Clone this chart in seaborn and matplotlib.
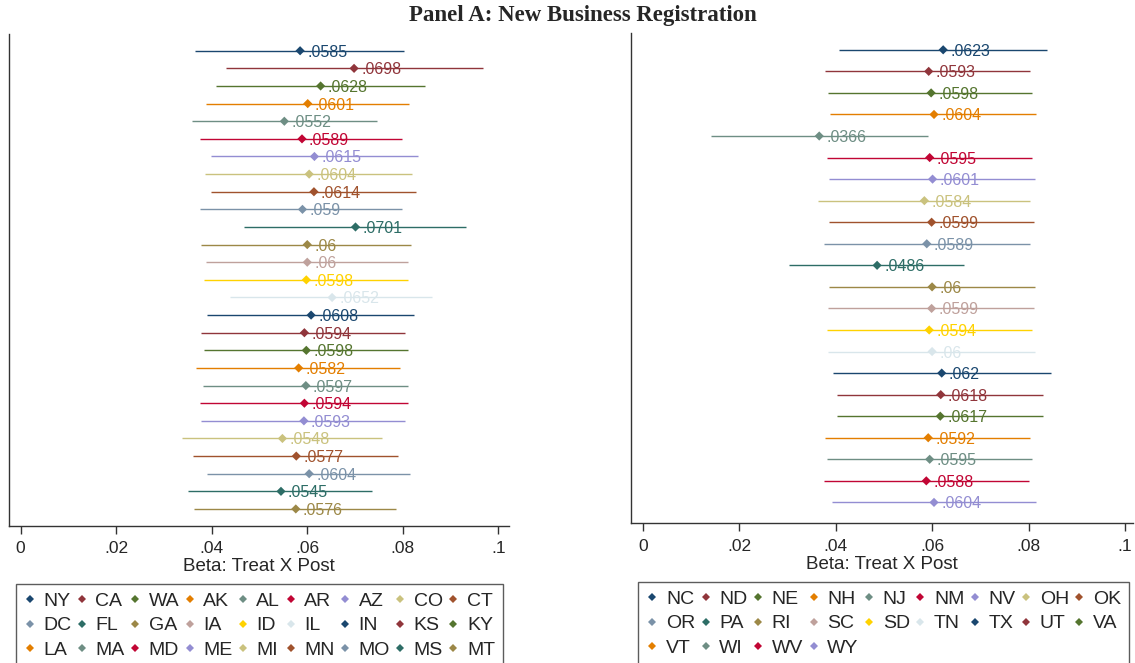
import matplotlib
matplotlib.use("Agg")
import matplotlib.pyplot as plt
from matplotlib.lines import Line2D
import numpy as np
import pandas as pd
import seaborn as sns

# Stata s2color palette (cycled over the states)
stata_colors = ["#1a476f", "#90353b", "#55752f", "#e37e00", "#6e8e84",
                "#c10534", "#938dd2", "#cac27e", "#a0522d", "#7b92a8",
                "#2d6d66", "#9c8847", "#bfa19c", "#ffd200", "#d9e6eb"]

# Left panel: point estimates and 95% confidence bounds
left_states = ["NY", "CA", "WA", "AK", "AL", "AR", "AZ", "CO", "CT",
               "DC", "FL", "GA", "IA", "ID", "IL", "IN", "KS", "KY",
               "LA", "MA", "MD", "ME", "MI", "MN", "MO", "MS", "MT"]
left_beta = [0.0585, 0.0698, 0.0628, 0.0601, 0.0552, 0.0589, 0.0615, 0.0604, 0.0614,
             0.059, 0.0701, 0.06, 0.06, 0.0598, 0.0652, 0.0608, 0.0594, 0.0598,
             0.0582, 0.0597, 0.0594, 0.0593, 0.0548, 0.0577, 0.0604, 0.0545, 0.0576]
left_lo = [0.0366, 0.0429, 0.0409, 0.0388, 0.0358, 0.0376, 0.0399, 0.0386, 0.0399,
           0.0376, 0.0467, 0.0378, 0.0388, 0.0383, 0.0439, 0.0391, 0.0378, 0.0383,
           0.0368, 0.0381, 0.0376, 0.0378, 0.0338, 0.0361, 0.0391, 0.0351, 0.0363]
left_hi = [0.0803, 0.0967, 0.0846, 0.0813, 0.0745, 0.0799, 0.0831, 0.0820, 0.0828,
           0.0799, 0.0932, 0.0818, 0.0810, 0.0810, 0.0861, 0.0823, 0.0805, 0.0810,
           0.0795, 0.0810, 0.0810, 0.0805, 0.0757, 0.0790, 0.0816, 0.0736, 0.0785]

# Right panel
right_states = ["NC", "ND", "NE", "NH", "NJ", "NM", "NV", "OH", "OK",
                "OR", "PA", "RI", "SC", "SD", "TN", "TX", "UT", "VA",
                "VT", "WI", "WV", "WY"]
right_beta = [0.0623, 0.0593, 0.0598, 0.0604, 0.0366, 0.0595, 0.0601, 0.0584, 0.0599,
              0.0589, 0.0486, 0.06, 0.0599, 0.0594, 0.06, 0.062, 0.0618, 0.0617,
              0.0592, 0.0595, 0.0588, 0.0604]
right_lo = [0.0407, 0.0379, 0.0384, 0.0389, 0.0142, 0.0382, 0.0387, 0.0364, 0.0387,
            0.0375, 0.0304, 0.0387, 0.0384, 0.0382, 0.0384, 0.0394, 0.0402, 0.0402,
            0.0379, 0.0382, 0.0375, 0.0392]
right_hi = [0.0839, 0.0803, 0.0808, 0.0816, 0.0591, 0.0807, 0.0813, 0.0803, 0.0811,
            0.0803, 0.0667, 0.0813, 0.0811, 0.0807, 0.0813, 0.0847, 0.0831, 0.0829,
            0.0803, 0.0808, 0.0800, 0.0816]

xticks = [0, 0.02, 0.04, 0.06, 0.08, 0.1]
xtick_labels = ["0", ".02", ".04", ".06", ".08", ".1"]

sns.set_style("white")
plt.rcParams["font.family"] = ["Liberation Sans", "DejaVu Sans"]

fig = plt.figure(figsize=(11.35, 6.63), dpi=100)

def stata_fmt(v):
    s = f"{v:.4g}"
    return s[1:] if s.startswith("0") else s

def panel(rect, states, beta, lo, hi, ylim, xlim):
    ax = fig.add_axes(rect)
    df = pd.DataFrame({"state": states, "beta": beta, "lo": lo, "hi": hi})
    df["pos"] = np.arange(len(df))
    palette = {s: stata_colors[i % len(stata_colors)] for i, s in enumerate(states)}
    df["color"] = df["state"].map(palette)

    ax.hlines(df["pos"], df["lo"], df["hi"], colors=df["color"], lw=1.0, zorder=1)
    sns.scatterplot(data=df, x="beta", y="pos", hue="state", palette=palette,
                    marker="D", s=22, linewidth=0, legend=False, ax=ax, zorder=2)
    for _, r in df.iterrows():
        ax.annotate(stata_fmt(r["beta"]), (r["beta"], r["pos"]),
                    xytext=(7, 0), textcoords="offset pixels",
                    ha="left", va="center_baseline", color=r["color"],
                    fontsize=11.5, zorder=3)

    ax.set_xlim(*xlim)
    ax.set_ylim(*ylim)
    ax.set_yticks([])
    ax.set_ylabel("")
    ax.set_xticks(xticks)
    ax.set_xticklabels(xtick_labels)
    ax.tick_params(axis="x", direction="out", length=6, width=1, color="#333333",
                   labelsize=12.5, pad=5, bottom=True)
    ax.set_xlabel("Beta: Treat X Post", fontsize=13.5, labelpad=1.5)
    for side in ["top", "right"]:
        ax.spines[side].set_visible(False)
    for side in ["left", "bottom"]:
        ax.spines[side].set_color("#333333")
        ax.spines[side].set_linewidth(1.0)
    ax.patch.set_alpha(0)
    return palette

def legend(palette, states, anchor):
    n = len(states)
    ncol = 9
    order = []
    for c in range(ncol):
        r = 0
        while r * ncol + c < n:
            order.append(r * ncol + c)
            r += 1
    handles = [Line2D([], [], marker="D", ls="", color=palette[states[i]],
                      markersize=4.2, markeredgewidth=0) for i in order]
    labels = [states[i] for i in order]
    leg = fig.legend(handles, labels, ncol=ncol, loc="upper left",
                     bbox_to_anchor=anchor, bbox_transform=fig.transFigure,
                     mode="expand", fontsize=14, frameon=True, fancybox=False,
                     handlelength=0.6, handletextpad=0.4, columnspacing=0.4,
                     labelspacing=0.36, borderpad=0.42, borderaxespad=0)
    leg.get_frame().set_edgecolor("#333333")
    leg.get_frame().set_linewidth(1.0)

W, H = 1135, 663
# left panel axes
lp = panel([8.5 / W, 1 - 525.7 / H, (509 - 8.5) / W, (525.7 - 34) / H],
           left_states, left_beta, left_lo, left_hi,
           (26.95, -0.95), (-0.00255, 0.10224))
rp = panel([630.7 / W, 1 - 523.3 / H, (1133 - 630.7) / W, (523.3 - 33) / H],
           right_states, right_beta, right_lo, right_hi,
           (21.97, -0.78), (-0.00249, 0.10166))

legend(lp, left_states, (15.7 / W, 1 - 584 / H - 0.3, (503.3 - 15.7) / W, 0.3))
legend(rp, right_states, (638.3 / W, 1 - 582 / H - 0.3, (1129.3 - 638.3) / W, 0.3))

fig.text(583 / W, 1 - 15 / H, "Panel A: New Business Registration",
         ha="center", va="center", fontsize=16.5, fontweight="bold",
         family=["Liberation Serif", "DejaVu Serif"])

fig.savefig("out.png", dpi=100)
